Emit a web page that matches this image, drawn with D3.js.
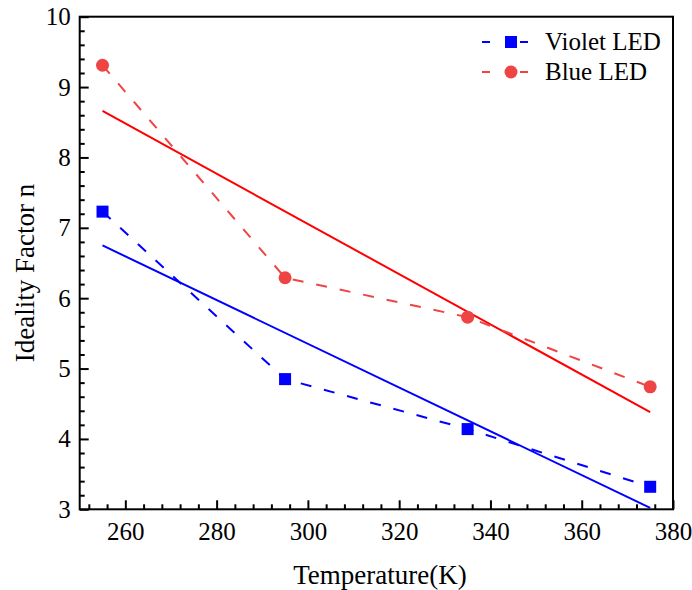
<!DOCTYPE html>
<html><head><meta charset="utf-8">
<script src="https://cdn.jsdelivr.net/npm/d3@7"></script>
<style>body{margin:0;background:#fff}svg{display:block}svg text{font-family:'Liberation Serif','Times New Roman',Times,'DejaVu Serif',serif !important;fill:#000}</style>
</head><body><div id="chart"></div>
<script>
const temps = [255, 295, 335, 375];
const violetLED = [7.23, 4.85, 4.14, 3.32];
const blueLED = [9.31, 6.29, 5.73, 4.74];
const fitTemps = [255, 375];
const violetFit = [6.75, 3.02];
const blueFit = [8.66, 4.38];
const xTicks = [260, 280, 300, 320, 340, 360, 380];
const yTicks = [3, 4, 5, 6, 7, 8, 9, 10];
const seriesNames = ["Violet LED", "Blue LED"];

const W = 692, H = 590;
const FONT = "'Liberation Serif','Times New Roman',Times,'DejaVu Serif',serif";
const x = d3.scaleLinear().domain([250, 380]).range([79.7, 673]);
const y = d3.scaleLinear().domain([3, 10]).range([509.3, 16.7]);

const svg = d3.select("#chart").append("svg").attr("width", W).attr("height", H);

const violetCol = "#0000ff", blueDash = "#ee4444", blueFitCol = "#ff0000";
const DASH = "11,13";

svg.append("rect").attr("x", x(250)).attr("y", y(10)).attr("width", x(380) - x(250)).attr("height", y(3) - y(10))
  .attr("fill", "none").attr("stroke", "#000").attr("stroke-width", 2);

const xAxis = d3.axisBottom(x).tickValues(xTicks).tickSize(-9).tickPadding(13).tickFormat(d3.format("d"));
const xMinor = d3.axisBottom(x).tickValues(d3.range(252, 380, 4).filter(v => (v - 260) % 20 !== 0)).tickSize(-5).tickFormat("");
const yAxis = d3.axisLeft(y).tickValues(yTicks).tickSize(-9).tickPadding(9).tickFormat(d3.format("d"));
const yMinor = d3.axisLeft(y).tickValues(d3.range(3.2, 10, 0.2).filter(v => Math.abs(v - Math.round(v)) > 0.01)).tickSize(-5).tickFormat("");

function styleAxis(g) {
  g.attr("font-family", FONT).attr("font-size", 25);
  g.select(".domain").remove();
  g.selectAll("line").attr("stroke", "#000").attr("stroke-width", 2);
  g.selectAll("text").attr("font-size", 25).style("font-family", FONT);
}
svg.append("g").attr("transform", `translate(0,${y(3)})`).call(xMinor).call(styleAxis);
svg.append("g").attr("transform", `translate(0,${y(3)})`).call(xAxis).call(styleAxis);
svg.append("g").attr("transform", `translate(${x(250)},0)`).call(yMinor).call(styleAxis);
svg.append("g").attr("transform", `translate(${x(250)},0)`).call(yAxis).call(styleAxis);

svg.append("text").attr("x", 380).attr("y", 584).attr("text-anchor", "middle").attr("font-size", 27).style("font-family", FONT).text("Temperature(K)");
svg.append("text").attr("transform", "translate(34,273) rotate(-90)").attr("text-anchor", "middle").attr("font-size", 27).style("font-family", FONT).text("Ideality Factor n");

const line = d3.line().x(d => x(d[0])).y(d => y(d[1]));

svg.append("path").attr("d", line(fitTemps.map((t, i) => [t, blueFit[i]]))).attr("fill", "none").attr("stroke", blueFitCol).attr("stroke-width", 2);
svg.append("path").attr("d", line(fitTemps.map((t, i) => [t, violetFit[i]]))).attr("fill", "none").attr("stroke", violetCol).attr("stroke-width", 2);

svg.append("path").attr("d", line(temps.map((t, i) => [t, blueLED[i]]))).attr("fill", "none").attr("stroke", blueDash).attr("stroke-width", 2).attr("stroke-dasharray", DASH);
svg.append("path").attr("d", line(temps.map((t, i) => [t, violetLED[i]]))).attr("fill", "none").attr("stroke", violetCol).attr("stroke-width", 2).attr("stroke-dasharray", DASH);

svg.selectAll(".sq").data(temps.map((t, i) => [t, violetLED[i]])).enter().append("rect")
  .attr("x", d => x(d[0]) - 6).attr("y", d => y(d[1]) - 6).attr("width", 12).attr("height", 12).attr("fill", violetCol);
svg.selectAll(".ci").data(temps.map((t, i) => [t, blueLED[i]])).enter().append("circle")
  .attr("cx", d => x(d[0])).attr("cy", d => y(d[1])).attr("r", 6.5).attr("fill", blueDash);

const leg = [{name: seriesNames[0], col: violetCol, shape: "sq", ly: 42}, {name: seriesNames[1], col: blueDash, shape: "ci", ly: 72}];
leg.forEach(l => {
  [[482, 490], [520, 528]].forEach(s => svg.append("line").attr("x1", s[0]).attr("x2", s[1]).attr("y1", l.ly).attr("y2", l.ly).attr("stroke", l.col).attr("stroke-width", 2));
  if (l.shape === "sq") svg.append("rect").attr("x", 505).attr("y", l.ly - 6).attr("width", 12).attr("height", 12).attr("fill", l.col);
  else svg.append("circle").attr("cx", 511).attr("cy", l.ly).attr("r", 6.5).attr("fill", l.col);
  svg.append("text").attr("x", 545).attr("y", l.ly + 8).attr("font-size", 25).style("font-family", FONT).text(l.name);
});
</script></body></html>
